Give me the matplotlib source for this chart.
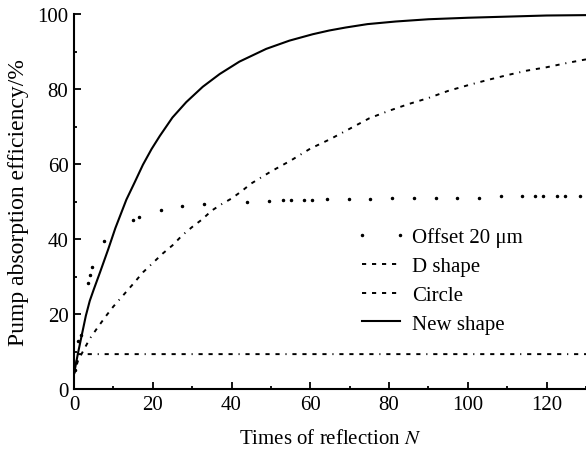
import matplotlib
matplotlib.use("Agg")
import matplotlib.pyplot as plt
from matplotlib.ticker import MultipleLocator

plt.rcParams['font.family'] = ['Liberation Serif', 'DejaVu Serif']
plt.rcParams['mathtext.fontset'] = 'stix'
plt.rcParams['lines.scale_dashes'] = False

# ---- data ----
new_n = [0, 1, 2, 3, 4, 5, 6.6, 8.7, 10.5, 13.3, 15.4, 17.5, 19.7, 21.8, 25, 28.5,
         32.7, 37, 42, 48.8, 54.7, 60.6, 64.8, 69, 74.5, 81.7, 90, 100, 110, 120, 130]
new_v = [4, 9.5, 14.5, 19.5, 23.5, 26.5, 31.1, 37.3, 42.9, 50.5, 55.1, 59.8, 64, 67.5, 72.4, 76.5,
         80.6, 84, 87.3, 90.7, 92.9, 94.6, 95.6, 96.4, 97.3, 98, 98.6, 99.0, 99.3, 99.6, 99.7]

d_n = [0, 1, 2, 4, 6, 8, 10, 12.5, 15, 17.5, 20, 22.5, 25, 27.5, 30, 32.5, 35, 37.5, 40,
       42.5, 45, 47.5, 50, 55, 60, 65, 70, 75, 80, 85, 90, 95, 100, 105, 110, 115, 120, 125, 130]
d_v = [4, 7.5, 9.5, 13.4, 16.4, 19.3, 22, 25, 28, 31.1, 33.6, 36.1, 38.3, 41, 43.2, 45.2, 47.6, 49.3, 50.8,
       52.7, 54.8, 56.4, 58, 60.9, 64.1, 66.6, 69.4, 72.2, 74.2, 76, 77.6, 79.5, 81, 82.4, 83.7, 84.9, 85.8, 86.9, 87.9]

circ_n = [0, 1, 130]
circ_v = [4, 9.3, 9.3]

off_n = [0.3, 1.1, 1.9, 3.5, 4.0, 4.6, 7.5, 15, 16.5, 22, 27.5, 33, 44, 49.5, 53, 55, 58.5, 60.5,
         64.3, 69.7, 75.2, 80.8, 86.3, 91.8, 97.3, 102.8, 108.3, 113.8, 117.1, 119.2, 122.6, 124.7, 128.5]
off_v = [5, 12.9, 14.5, 28.3, 30.5, 32.5, 39.5, 45, 46, 47.8, 48.8, 49.4, 50, 50.1, 50.4, 50.4, 50.5, 50.5,
         50.6, 50.8, 50.8, 50.9, 51, 51, 51, 51, 51.4, 51.4, 51.4, 51.4, 51.5, 51.5, 51.5]

labels = ["Offset 20 μm", "D shape", "Circle", "New shape"]
x_ticks = [0, 20, 40, 60, 80, 100, 120]
y_ticks = [0, 20, 40, 60, 80, 100]

fig = plt.figure(figsize=(5.86, 4.52), dpi=100)
ax = fig.add_axes([74/586, 62/452, 512/586, 375/452])

dash_style = (0, (3.0, 4.2, 3.0, 4.2, 3.0, 4.2, 3.0, 4.2, 0.8, 4.2))

ax.plot(off_n, off_v, linestyle='none', marker='o', markersize=1.5, color='black',
        label=labels[0])
ax.plot(d_n, d_v, linestyle=dash_style, linewidth=1.4, color='black', label=labels[1])
ax.plot(circ_n, circ_v, linestyle=dash_style, linewidth=1.4, color='black', label=labels[2])
ax.plot(new_n, new_v, linestyle='-', linewidth=1.5, color='black', label=labels[3])

ax.set_xlim(0, 130)
ax.set_ylim(0, 100)
ax.set_xticks(x_ticks)
ax.set_yticks(y_ticks)
ax.xaxis.set_minor_locator(MultipleLocator(10))
ax.yaxis.set_minor_locator(MultipleLocator(10))
ax.tick_params(which='both', direction='in', labelsize=15, width=1.3, color='black')
ax.tick_params(which='major', length=5)
ax.tick_params(which='minor', length=2.5)
ax.tick_params(axis='x', pad=4)
ax.tick_params(axis='y', pad=4)
for s in ['top', 'right']:
    ax.spines[s].set_visible(False)
for s in ['left', 'bottom']:
    ax.spines[s].set_linewidth(1.5)

ax.set_xlabel("Times of reflection $\\mathit{N}$", fontsize=15, labelpad=11)
ax.set_ylabel("Pump absorption efficiency/%", fontsize=17, labelpad=6)

leg = ax.legend(loc='upper left', bbox_to_anchor=(356/586, (452-228)/452),
                bbox_transform=fig.transFigure, frameon=False, fontsize=15,
                numpoints=2, handlelength=2.4, handletextpad=0.3, labelspacing=0.45,
                borderpad=0, borderaxespad=0)

fig.savefig("out.png", dpi=100)
